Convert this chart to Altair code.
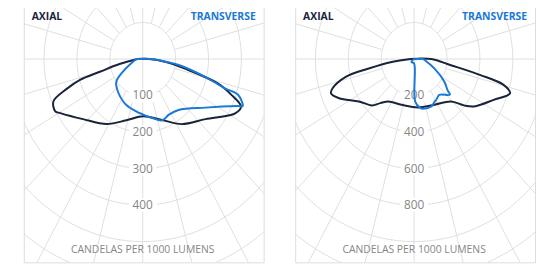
import math
import altair as alt
import pandas as pd

# ---------------- data (angle from nadir in degrees, candela per 1000 lm) --------------
p1_axial_deg = [-90, -79, -75, -73.4, -70.6, -66.9, -61.7, -59.4, -47.8, -31.6, -16.5, 0.5,
                16.7, 33.6, 49.2, 62.1, 66.5, 70.1, 73.6, 78.3, 83.5, 90]
p1_axial_cd = [16, 72, 135, 199, 244, 295, 302, 291, 245, 209, 175, 157,
               172, 214, 252, 318, 326, 286, 239, 133, 71, 19]

p1_trans_deg = [-90, -60, -52, -40, -22, -4, 10, 19.5, 27.6, 38, 55, 66, 67, 71.4, 72.2,
                75.6, 81.6, 84, 90]
p1_trans_cd = [20, 70, 102, 117, 135, 148, 164, 178, 172, 177, 232, 317, 330, 305, 262,
               196, 111, 70, 28]

p2_axial_deg = [-90, -83.2, -79.3, -76.8, -72.1, -69.6, -64.8, -55.3, -45.2, -40.4, -33.9,
                -16.9, 5.2, 26.4, 43.9, 50.1, 54.5, 65.2, 72.2, 75.4, 77.7, 81.4, 90]
p2_axial_cd = [20, 137, 281, 427, 521, 539, 504, 408, 361, 317, 280,
               262, 266, 279, 323, 396, 447, 533, 613, 562, 413, 226, 104]

p2_trans_deg = [-75, -45, 0, 1.5, 7.7, 11.6, 22, 28.5, 31.5, 38, 48, 50, 56, 67, 84, 90]
p2_trans_cd = [6, 23, 25, 232, 270, 278, 280, 264, 260, 249, 292, 265, 222, 135, 66, 54]

p1_rings = [100, 200, 300, 400, 500, 600, 700, 800]
p2_rings = [200, 400, 600, 800, 1000, 1200, 1400, 1600]
p1_labels = [100, 200, 300, 400]
p2_labels = [200, 400, 600, 800]
spoke_deg = list(range(0, 360, 15))

titles_left = "AXIAL"
titles_right = "TRANSVERSE"
bottom_title = "CANDELAS PER 1000 LUMENS"

AXIAL_COLOR = "#19233a"
TRANS_COLOR = "#1a78d6"
GRID = "#dedede"
LABEL_GRAY = "#868686"
FONT = "Open Sans"

PW, PH = 243, 263          # panel size in px
CX, CY = 120.5, 57         # centre in px inside the panel
PX_PER_RING_X, PX_PER_RING_Y = 33.33, 37.0


def curve_df(deg, cd):
    d = list(deg) + [deg[0]]
    c = list(cd) + [cd[0]]
    return pd.DataFrame({"deg": d, "cd": c, "i": list(range(len(d)))})


def panel(step, rings, labels, axial, trans):
    ux = PX_PER_RING_X / step
    uy = PX_PER_RING_Y / step
    xs = alt.Scale(domain=[-CX / ux, (PW - CX) / ux], nice=False, zero=False)
    ys = alt.Scale(domain=[-(PH - CY) / uy, CY / uy], nice=False, zero=False)
    X = lambda f: alt.X(f, type="quantitative", scale=xs, axis=None)
    Y = lambda f: alt.Y(f, type="quantitative", scale=ys, axis=None)

    ring_rows = [{"ring": r, "a": a} for r in rings for a in range(0, 361, 3)]
    ring_layer = alt.Chart(pd.DataFrame(ring_rows)).transform_calculate(
        x="datum.ring*sin(datum.a*PI/180)", y="datum.ring*cos(datum.a*PI/180)"
    ).mark_line(color=GRID, strokeWidth=1, clip=True).encode(
        x=X("x"), y=Y("y"), detail="ring:N", order="a:Q")

    spokes = pd.DataFrame({"deg": spoke_deg})
    spoke_layer = alt.Chart(spokes).transform_calculate(
        r0=f"datum.deg % 90 == 0 ? 0 : {rings[0]}",
        x="datum.r0*sin(datum.deg*PI/180)", y="datum.r0*cos(datum.deg*PI/180)",
        x2=f"{rings[-1]*2}*sin(datum.deg*PI/180)", y2=f"{rings[-1]*2}*cos(datum.deg*PI/180)"
    ).mark_rule(color=GRID, strokeWidth=1, clip=True).encode(
        x=X("x"), y=Y("y"), x2="x2:Q", y2="y2:Q")

    lab = pd.DataFrame({"v": labels})
    hw, hh = 14 / ux, 7 / uy
    bg_layer = alt.Chart(lab).transform_calculate(
        xa=f"-{hw}", xb=f"{hw}", ya=f"-datum.v-{hh}", yb=f"-datum.v+{hh}"
    ).mark_rect(color="white").encode(x=X("xa"), x2="xb:Q", y=Y("ya"), y2="yb:Q")
    text_layer = alt.Chart(lab).transform_calculate(
        x="0", y="-datum.v"
    ).mark_text(font=FONT, fontSize=12, color=LABEL_GRAY, baseline="middle",
                align="center").encode(x=X("x"), y=Y("y"), text="v:N")

    def curve(deg, cd, color):
        return alt.Chart(curve_df(deg, cd)).transform_calculate(
            x="datum.cd*sin(datum.deg*PI/180)", y="-datum.cd*cos(datum.deg*PI/180)"
        ).mark_line(color=color, strokeWidth=2, interpolate="catmull-rom", clip=True).encode(
            x=X("x"), y=Y("y"), order="i:Q")

    t1 = alt.Chart(pd.DataFrame({"t": [titles_left]})).mark_text(
        font=FONT, fontSize=10.5, fontWeight="bold", color=AXIAL_COLOR, align="left",
        baseline="middle").encode(x=alt.value(8), y=alt.value(14), text="t:N")
    t2 = alt.Chart(pd.DataFrame({"t": [titles_right]})).mark_text(
        font=FONT, fontSize=10.5, fontWeight="bold", color=TRANS_COLOR, align="right",
        baseline="middle").encode(x=alt.value(235), y=alt.value(14), text="t:N")
    t3 = alt.Chart(pd.DataFrame({"t": [bottom_title]})).mark_text(
        font=FONT, fontSize=10.5, color=LABEL_GRAY, align="center",
        baseline="middle").encode(x=alt.value(PW / 2 - 1), y=alt.value(251), text="t:N")

    return alt.layer(ring_layer, spoke_layer, bg_layer, text_layer,
                     curve(*axial, AXIAL_COLOR), curve(*trans, TRANS_COLOR),
                     t1, t2, t3).properties(width=PW, height=PH)


left = panel(100, p1_rings, p1_labels, (p1_axial_deg, p1_axial_cd), (p1_trans_deg, p1_trans_cd))
right = panel(200, p2_rings, p2_labels, (p2_axial_deg, p2_axial_cd), (p2_trans_deg, p2_trans_cd))

chart = alt.hconcat(left, right, spacing=30).properties(
    padding={"left": 15, "top": -8, "right": 0, "bottom": 0},
    background="white",
).configure_view(stroke="#dcdcdc", strokeWidth=1)

chart.save("out.html", embed_options={"renderer": "svg", "actions": False})
